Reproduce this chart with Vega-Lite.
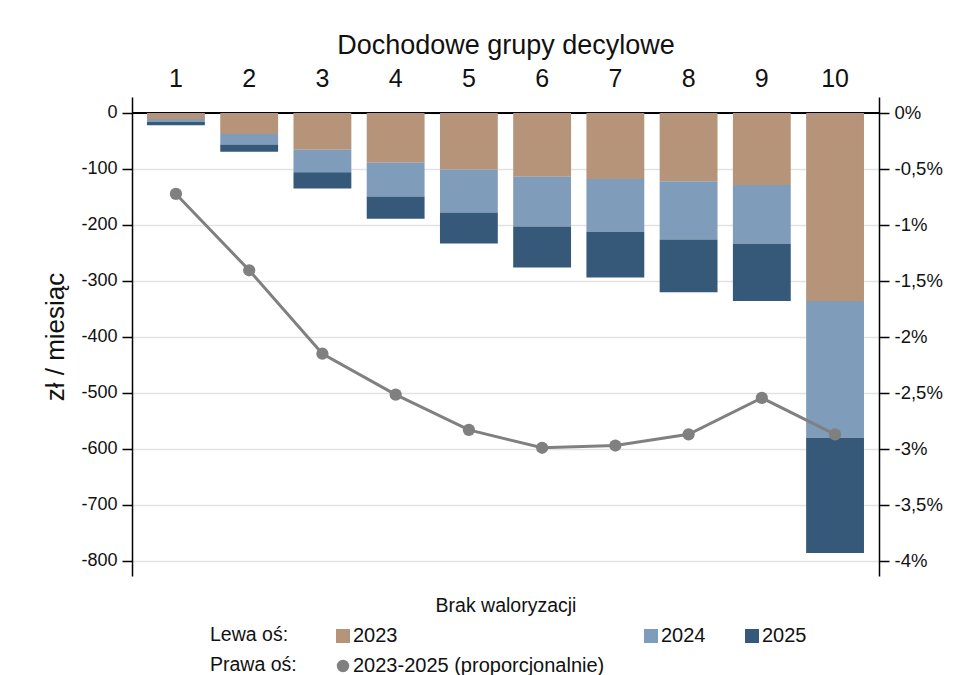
{
  "$schema": "https://vega.github.io/schema/vega-lite/v6.json",
  "width": 747,
  "height": 479,
  "autosize": {"type": "none"},
  "padding": {"left": 132, "top": 97, "right": 93, "bottom": 99},
  "background": "white",
  "config": {
    "font": "Liberation Sans",
    "view": {"stroke": null},
    "axis": {
      "labelFont": "Liberation Sans",
      "titleFont": "Liberation Sans",
      "titleFontWeight": "normal",
      "labelColor": "#111111",
      "titleColor": "#111111",
      "domainColor": "#000000",
      "tickColor": "#000000",
      "domainWidth": 1.5,
      "tickWidth": 1.5
    },
    "legend": {
      "labelFont": "Liberation Sans",
      "titleFont": "Liberation Sans"
    }
  },
  "datasets": {
    "bars": [
      {"decile": 1, "year": "2023", "value": -11},
      {"decile": 1, "year": "2024", "value": -5},
      {"decile": 1, "year": "2025", "value": -6},
      {"decile": 2, "year": "2023", "value": -37.5},
      {"decile": 2, "year": "2024", "value": -19},
      {"decile": 2, "year": "2025", "value": -13},
      {"decile": 3, "year": "2023", "value": -65.5},
      {"decile": 3, "year": "2024", "value": -40.5},
      {"decile": 3, "year": "2025", "value": -29},
      {"decile": 4, "year": "2023", "value": -89},
      {"decile": 4, "year": "2024", "value": -60},
      {"decile": 4, "year": "2025", "value": -40},
      {"decile": 5, "year": "2023", "value": -101},
      {"decile": 5, "year": "2024", "value": -77},
      {"decile": 5, "year": "2025", "value": -55},
      {"decile": 6, "year": "2023", "value": -114},
      {"decile": 6, "year": "2024", "value": -89},
      {"decile": 6, "year": "2025", "value": -73},
      {"decile": 7, "year": "2023", "value": -118},
      {"decile": 7, "year": "2024", "value": -94},
      {"decile": 7, "year": "2025", "value": -82},
      {"decile": 8, "year": "2023", "value": -122},
      {"decile": 8, "year": "2024", "value": -104},
      {"decile": 8, "year": "2025", "value": -94},
      {"decile": 9, "year": "2023", "value": -128.5},
      {"decile": 9, "year": "2024", "value": -105.5},
      {"decile": 9, "year": "2025", "value": -102},
      {"decile": 10, "year": "2023", "value": -336},
      {"decile": 10, "year": "2024", "value": -244},
      {"decile": 10, "year": "2025", "value": -206}
    ],
    "share": [
      {"decile": 1, "pct": -0.723},
      {"decile": 2, "pct": -1.405},
      {"decile": 3, "pct": -2.15},
      {"decile": 4, "pct": -2.515},
      {"decile": 5, "pct": -2.83},
      {"decile": 6, "pct": -2.99},
      {"decile": 7, "pct": -2.97},
      {"decile": 8, "pct": -2.87},
      {"decile": 9, "pct": -2.545},
      {"decile": 10, "pct": -2.87}
    ]
  },
  "layer": [
    {
      "data": {"name": "bars"},
      "layer": [
        {
          "mark": {"type": "rule", "color": "#000000", "strokeWidth": 2},
          "encoding": {"y": {"datum": 0, "type": "quantitative"}}
        },
        {
          "mark": {"type": "bar"},
          "encoding": {
            "x": {
              "field": "decile",
              "type": "ordinal",
              "scale": {"paddingInner": 0.21, "paddingOuter": 0.205},
              "axis": {
                "orient": "top",
                "title": "Dochodowe grupy decylowe",
                "domain": false,
                "ticks": false,
                "labelAngle": 0,
                "labelFontSize": 25,
                "labelPadding": 6,
                "titleFontSize": 27,
                "titlePadding": 7
              }
            },
            "y": {
              "field": "value",
              "type": "quantitative",
              "stack": "zero",
              "scale": {"domain": [-827, 28.5], "nice": false, "zero": false},
              "axis": {
                "orient": "left",
                "values": [0, -100, -200, -300, -400, -500, -600, -700, -800],
                "labelExpr": "'' + datum.value",
                "title": "zł / miesiąc",
                "titleFontSize": 26,
                "titlePadding": 12,
                "labelFontSize": 18,
                "labelPadding": 5,
                "tickSize": 10,
                "grid": true,
                "gridColor": "#e2e2e2",
                "gridWidth": 1.5
              }
            },
            "order": {"field": "year", "sort": "ascending"},
            "color": {
              "field": "year",
              "type": "nominal",
              "scale": {
                "domain": ["2023", "2024", "2025", "2023-2025 (proporcjonalnie)"],
                "range": ["#b5947a", "#7f9dba", "#36597a", "#808080"]
              },
              "legend": {
                "orient": "none",
                "legendX": 78,
                "legendY": 529,
                "title": ["Lewa oś:", "Prawa oś:"],
                "titleOrient": "left",
                "titleAnchor": "start",
                "titleBaseline": "top",
                "titleAlign": "left",
                "titleLineHeight": 30,
                "titleFontSize": 19.5,
                "titleFontWeight": "normal",
                "titleColor": "#111111",
                "titlePadding": 36,
                "columns": 3,
                "columnPadding": 36,
                "rowPadding": 10,
                "labelFontSize": 20,
                "labelColor": "#111111",
                "labelOffset": 0,
                "labelLimit": 500,
                "symbolSize": 196,
                "symbolType": "square",
                "symbolStrokeWidth": 0,
                "direction": "horizontal",
                "encode": {
                  "symbols": {
                    "update": {
                      "shape": {"signal": "datum.value === '2023-2025 (proporcjonalnie)' ? 'circle' : 'square'"},
                      "size": {"signal": "datum.value === '2023-2025 (proporcjonalnie)' ? 154 : 196"},
                      "fill": {"scale": "color", "field": "value"},
                      "opacity": {"value": 1}
                    }
                  }
                }
              }
            }
          }
        }
      ]
    },
    {
      "data": {"name": "share"},
      "layer": [
        {
          "mark": {"type": "line", "color": "#808080", "strokeWidth": 3},
          "encoding": {
            "x": {
              "field": "decile",
              "type": "ordinal",
              "axis": {
                "orient": "bottom",
                "title": "Brak waloryzacji",
                "labels": false,
                "ticks": false,
                "domain": false,
                "grid": false,
                "titleFontSize": 19.5,
                "titlePadding": 20
              }
            },
            "y": {
              "field": "pct",
              "type": "quantitative",
              "scale": {"domain": [-4.135, 0.1425], "nice": false, "zero": false},
              "axis": {
                "orient": "right",
                "values": [0, -0.5, -1, -1.5, -2, -2.5, -3, -3.5, -4],
                "labelExpr": "replace('' + datum.value, '.', ',') + '%'",
                "title": null,
                "grid": false,
                "labelFontSize": 18.5,
                "labelPadding": 5,
                "tickSize": 10
              }
            }
          }
        },
        {
          "mark": {"type": "point", "filled": true, "size": 150, "opacity": 1},
          "encoding": {
            "x": {
              "field": "decile",
              "type": "ordinal",
              "axis": {
                "orient": "bottom",
                "title": "Brak waloryzacji",
                "labels": false,
                "ticks": false,
                "domain": false,
                "grid": false,
                "titleFontSize": 19.5,
                "titlePadding": 20
              }
            },
            "y": {
              "field": "pct",
              "type": "quantitative",
              "scale": {"domain": [-4.135, 0.1425], "nice": false, "zero": false},
              "axis": {
                "orient": "right",
                "values": [0, -0.5, -1, -1.5, -2, -2.5, -3, -3.5, -4],
                "labelExpr": "replace('' + datum.value, '.', ',') + '%'",
                "title": null,
                "grid": false,
                "labelFontSize": 18.5,
                "labelPadding": 5,
                "tickSize": 10
              }
            },
            "color": {
              "datum": "2023-2025 (proporcjonalnie)",
              "type": "nominal",
              "scale": {
                "domain": ["2023", "2024", "2025", "2023-2025 (proporcjonalnie)"],
                "range": ["#b5947a", "#7f9dba", "#36597a", "#808080"]
              }
            }
          }
        }
      ]
    }
  ],
  "resolve": {"scale": {"y": "independent"}, "axis": {"x": "independent"}}
}
